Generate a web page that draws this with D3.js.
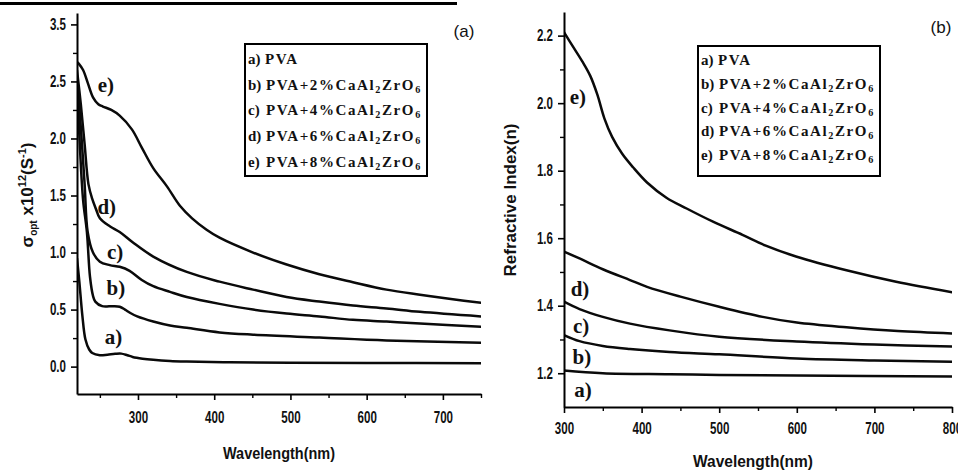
<!DOCTYPE html>
<html><head><meta charset="utf-8">
<script src="https://cdn.jsdelivr.net/npm/d3@7"></script>
<style>
html,body{margin:0;padding:0;background:#fff;}
svg{display:block;}
</style></head><body>
<svg id="chart" width="958" height="472"></svg>
<script>
// ---------------- DATA ----------------
const seriesKeys = ["a)", "b)", "c)", "d)", "e)"];
const legendNames = ["PVA", "PVA+2%CaAl_2ZrO_6", "PVA+4%CaAl_2ZrO_6", "PVA+6%CaAl_2ZrO_6", "PVA+8%CaAl_2ZrO_6"];

// panel (a): optical conductivity vs wavelength  [nm, value]
const condA = [[220,0.95],[223,0.75],[227,0.45],[231,0.24],[236,0.15],[240,0.12],[250,0.10],[260,0.105],[270,0.112],[278,0.114],[286,0.10],[293,0.085],[306,0.07],[320,0.06],[342,0.05],[364,0.045],[420,0.038],[500,0.035],[600,0.032],[750,0.03]];
const condB = [[220,2.5],[224,1.9],[228,1.46],[233,1.18],[237,0.79],[241,0.62],[244,0.57],[253,0.53],[267,0.53],[276,0.525],[283,0.5],[290,0.47],[299,0.44],[320,0.395],[342,0.36],[364,0.34],[407,0.30],[451,0.28],[538,0.255],[626,0.23],[750,0.21]];
const condC = [[220,2.55],[225,2.1],[230,1.6],[234,1.18],[241,1.0],[250,0.92],[263,0.89],[276,0.875],[289,0.84],[305,0.76],[320,0.705],[342,0.655],[364,0.61],[407,0.55],[451,0.5],[495,0.465],[538,0.44],[582,0.41],[626,0.395],[670,0.377],[750,0.35]];
const condD = [[220,2.6],[225,2.3],[230,1.95],[235,1.6],[240,1.47],[245,1.38],[250,1.3],[263,1.23],[276,1.18],[293,1.09],[320,0.965],[364,0.83],[407,0.745],[451,0.675],[495,0.61],[538,0.57],[582,0.535],[626,0.51],[670,0.48],[750,0.44]];
const condE = [[220,2.67],[223,2.65],[228,2.6],[234,2.49],[241,2.36],[248,2.3],[254,2.28],[265,2.25],[276,2.2],[292,2.08],[305,1.92],[320,1.74],[338,1.58],[355,1.41],[371,1.3],[390,1.2],[407,1.13],[451,1.0],[495,0.895],[538,0.81],[582,0.74],[626,0.675],[670,0.63],[713,0.59],[750,0.56]];

// panel (b): refractive index vs wavelength  [nm, value]
const refA = [[300,1.208],[350,1.2],[436,1.197],[500,1.195],[600,1.193],[800,1.19]];
const refB = [[300,1.313],[320,1.295],[350,1.281],[385,1.272],[436,1.263],[500,1.256],[600,1.244],[700,1.238],[800,1.234]];
const refC = [[300,1.412],[320,1.39],[350,1.367],[385,1.347],[436,1.327],[500,1.308],[600,1.294],[700,1.285],[800,1.279]];
const refD = [[300,1.56],[320,1.54],[350,1.508],[385,1.476],[407,1.456],[450,1.427],[500,1.397],[556,1.367],[600,1.35],[664,1.336],[730,1.325],[800,1.318]];
const refE = [[300,2.21],[312,2.166],[324,2.122],[334,2.08],[343,2.025],[352,1.955],[362,1.9],[375,1.85],[389,1.81],[407,1.765],[432,1.72],[458,1.688],[492,1.649],[530,1.61],[560,1.578],[600,1.545],[664,1.505],[728,1.471],[800,1.44]];

// ticks
const leftXTicks = [300, 400, 500, 600, 700];
const leftXMinor = [250, 350, 450, 550, 650, 750];
const leftYTicks = [0, 0.5, 1.0, 1.5, 2.0, 2.5, 3.0];
const leftYTickLabels = ["0.0", "0.5", "1.0", "1.5", "2.0", "2.5", "3.5"];
const leftYMinor = [0.25, 0.75, 1.25, 1.75, 2.25, 2.75];
const rightXTicks = [300, 400, 500, 600, 700, 800];
const rightXMinor = [350, 450, 550, 650, 750];
const rightYTicks = [1.2, 1.4, 1.6, 1.8, 2.0, 2.2];
const rightYTickLabels = ["1.2", "1.4", "1.6", "1.8", "2.0", "2.2"];
const rightYMinor = [1.3, 1.5, 1.7, 1.9, 2.1];

// curve-label anchors in data units [nm, value]
const leftLabelAt = [[268, 0.26], [271, 0.69], [270, 1.005], [259, 1.40], [258, 2.47]];
const rightLabelAt = [[324.5, 1.15], [323, 1.248], [322, 1.34], [320.6, 1.452], [318, 2.018]];

// ---------------- DRAW ----------------
const svg = d3.select("#chart");
const SANS = "'Liberation Sans', Arial, sans-serif";
const SERIF = "'Liberation Serif', 'Times New Roman', serif";

// top rule (page artifact)
svg.append("line").attr("x1", 0).attr("x2", 457).attr("y1", 3.5).attr("y2", 3.5)
  .attr("stroke", "#000").attr("stroke-width", 3);

function squeeze(sel, f) {
  sel.each(function () {
    const L = this.getComputedTextLength();
    d3.select(this).attr("textLength", L * f).attr("lengthAdjust", "spacingAndGlyphs");
  });
}

function styleAxis(g) {
  g.select(".domain").attr("stroke", "#000").attr("stroke-width", 2);
  g.selectAll(".tick line").attr("stroke", "#000").attr("stroke-width", 1.6);
  g.selectAll("text").attr("font-family", SANS).attr("font-weight", "bold")
    .attr("font-size", 16.5).attr("fill", "#111");
  squeeze(g.selectAll("text"), 0.7);
}

function richText(textSel, str) {
  let parts = [];
  let buf = "";
  for (let i = 0; i < str.length; i++) {
    if (str[i] === "_" && i + 1 < str.length) {
      if (buf) parts.push({ t: buf, sub: false });
      buf = "";
      parts.push({ t: str[i + 1], sub: true });
      i++;
    } else buf += str[i];
  }
  if (buf) parts.push({ t: buf, sub: false });
  let shifted = false;
  parts.forEach(p => {
    const ts = textSel.append("tspan").text(p.t);
    if (p.sub) { ts.attr("font-size", "68%").attr("dy", shifted ? 0 : 3); shifted = true; }
    else if (shifted) { ts.attr("dy", -3); shifted = false; }
  });
}

function panel(cfg) {
  const { x, y, series, xTicks, xMinor, yTicks, yLabels, yMinor, labelAt } = cfg;
  const g = svg.append("g");
  const clipId = "clip" + cfg.id;
  svg.append("clipPath").attr("id", clipId).append("rect")
    .attr("x", x.range()[0]).attr("y", y.range()[1])
    .attr("width", x.range()[1] - x.range()[0]).attr("height", y.range()[0] - y.range()[1]);

  const line = d3.line().x(d => x(d[0])).y(d => y(d[1])).curve(d3.curveCatmullRom.alpha(0.5));
  g.append("g").attr("clip-path", `url(#${clipId})`)
    .selectAll("path").data(series).join("path")
    .attr("d", line).attr("fill", "none").attr("stroke", "#0a0a0a")
    .attr("stroke-width", 2.5).attr("stroke-linejoin", "round").attr("stroke-linecap", "round");

  // minor ticks
  const gxm = g.append("g").attr("transform", `translate(0,${y.range()[0]})`)
    .call(d3.axisBottom(x).tickValues(xMinor).tickSize(4).tickFormat("").tickSizeOuter(0));
  gxm.select(".domain").remove();
  gxm.selectAll(".tick line").attr("stroke", "#000").attr("stroke-width", 1.4);
  const gym = g.append("g").attr("transform", `translate(${x.range()[0]},0)`)
    .call(d3.axisLeft(y).tickValues(yMinor).tickSize(4).tickFormat("").tickSizeOuter(0));
  gym.select(".domain").remove();
  gym.selectAll(".tick line").attr("stroke", "#000").attr("stroke-width", 1.4);

  // major axes
  const gx = g.append("g").attr("transform", `translate(0,${y.range()[0]})`)
    .call(d3.axisBottom(x).tickValues(xTicks).tickSize(6).tickPadding(cfg.xPad)
      .tickSizeOuter(0).tickFormat(d3.format("d")));
  styleAxis(gx);
  const gy = g.append("g").attr("transform", `translate(${x.range()[0]},0)`)
    .call(d3.axisLeft(y).tickValues(yTicks).tickSize(6).tickPadding(5)
      .tickSizeOuter(0).tickFormat((d, i) => yLabels[i]));
  styleAxis(gy);

  // curve labels
  g.selectAll("text.cl").data(labelAt).join("text").attr("class", "cl")
    .attr("x", d => x(d[0])).attr("y", d => y(d[1])).attr("dy", "0.35em")
    .attr("text-anchor", "middle").attr("font-family", SERIF).attr("font-weight", "bold")
    .attr("font-size", 21).attr("fill", "#111").text((d, i) => seriesKeys[i]);

  // legend
  const L = cfg.legend;
  g.append("rect").attr("x", L.x).attr("y", L.y).attr("width", L.w).attr("height", L.h)
    .attr("fill", "#fff").attr("stroke", "#000").attr("stroke-width", 2);
  seriesKeys.forEach((k, i) => {
    const yy = L.row0 + i * L.step;
    g.append("text").attr("x", L.x + 3).attr("y", yy).attr("font-family", SERIF)
      .attr("font-weight", "bold").attr("font-size", 15).attr("fill", "#111").text(k);
    const t = g.append("text").attr("x", L.x + (i === 0 ? 20 : 21)).attr("y", yy)
      .attr("font-family", SERIF).attr("font-weight", "bold").attr("font-size", 15)
      .attr("letter-spacing", 1.6).attr("fill", "#111");
    richText(t, legendNames[i]);
  });

  // panel tag
  svg.append("text").attr("x", cfg.tag.x).attr("y", cfg.tag.y).attr("text-anchor", "middle")
    .attr("font-family", SANS).attr("font-size", 17).attr("fill", "#111").text(cfg.tag.t);
  return g;
}

const xL = d3.scaleLinear().domain([220, 750]).range([77, 481]);
const yL = d3.scaleLinear().domain([-0.24, 3.1]).range([394, 13]);
const xR = d3.scaleLinear().domain([300, 800]).range([564, 952]);
const yR = d3.scaleLinear().domain([1.1, 2.27]).range([407, 12]);

panel({ id: "L", x: xL, y: yL, series: [condA, condB, condC, condD, condE],
  xTicks: leftXTicks, xMinor: leftXMinor, yTicks: leftYTicks, yLabels: leftYTickLabels, yMinor: leftYMinor,
  labelAt: leftLabelAt, xPad: 11,
  legend: { x: 245, y: 44, w: 182, h: 132, row0: 64, step: 25.7 },
  tag: { x: 464, y: 37, t: "(a)" } });

panel({ id: "R", x: xR, y: yR, series: [refA, refB, refC, refD, refE],
  xTicks: rightXTicks, xMinor: rightXMinor, yTicks: rightYTicks, yLabels: rightYTickLabels, yMinor: rightYMinor,
  labelAt: rightLabelAt, xPad: 9,
  legend: { x: 698, y: 46, w: 182, h: 130, row0: 65, step: 23.8 },
  tag: { x: 941, y: 33, t: "(b)" } });

// axis titles
svg.append("text").attr("x", 279).attr("y", 459).attr("text-anchor", "middle")
  .attr("font-family", SANS).attr("font-weight", "bold").attr("font-size", 16).attr("fill", "#111")
  .attr("textLength", 112).attr("lengthAdjust", "spacingAndGlyphs").text("Wavelength(nm)");
svg.append("text").attr("x", 753).attr("y", 467).attr("text-anchor", "middle")
  .attr("font-family", SANS).attr("font-weight", "bold").attr("font-size", 16).attr("fill", "#111")
  .attr("textLength", 120).attr("lengthAdjust", "spacingAndGlyphs").text("Wavelength(nm)");

svg.append("text").attr("transform", "translate(516,200) rotate(-90)").attr("text-anchor", "middle")
  .attr("font-family", SANS).attr("font-weight", "bold").attr("font-size", 17).attr("fill", "#111")
  .text("Refractive Index(n)");

const ylab = svg.append("text").attr("transform", "translate(33,195) rotate(-90)").attr("text-anchor", "middle")
  .attr("font-family", SANS).attr("font-weight", "bold").attr("font-size", 17).attr("fill", "#111");
ylab.append("tspan").text("σ");
ylab.append("tspan").attr("font-size", 10).attr("dy", 4).text("opt");
ylab.append("tspan").attr("dy", -4).text(" x10");
ylab.append("tspan").attr("font-size", 11).attr("dy", -7).text("12");
ylab.append("tspan").attr("dy", 7).text("(S");
ylab.append("tspan").attr("font-size", 11).attr("dy", -7).text("-1");
ylab.append("tspan").attr("dy", 7).text(")");
</script>
</body></html>
